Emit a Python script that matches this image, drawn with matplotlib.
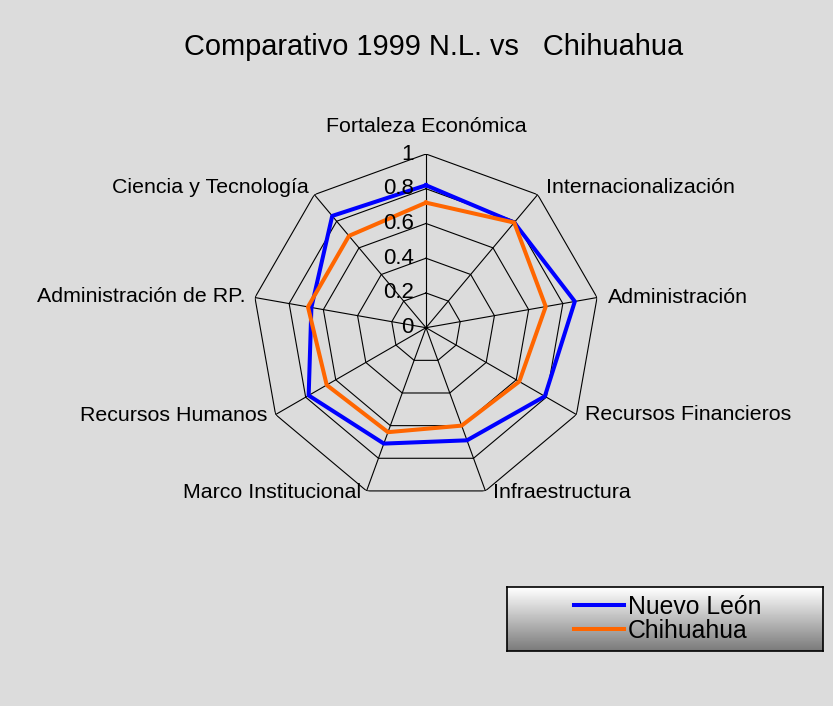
import numpy as np
import matplotlib
matplotlib.use("Agg")
import matplotlib.pyplot as plt
from matplotlib.lines import Line2D

plt.rcParams['font.family'] = ['Liberation Sans', 'DejaVu Sans']

# data
categories = ["Fortaleza Económica", "Internacionalización", "Administración",
              "Recursos Financieros", "Infraestructura", "Marco Institucional",
              "Recursos Humanos", "Administración de RP.", "Ciencia y Tecnología"]
nuevo_leon = [0.82, 0.79, 0.87, 0.79, 0.69, 0.71, 0.78, 0.67, 0.84]
chihuahua = [0.72, 0.79, 0.70, 0.62, 0.60, 0.64, 0.66, 0.69, 0.69]
r_ticks = [0, 0.2, 0.4, 0.6, 0.8, 1]
r_labels = ["0", "0.2", "0.4", "0.6", "0.8", "1"]
title = "Comparativo 1999 N.L. vs   Chihuahua"

W, H = 833, 706
fig = plt.figure(figsize=(W / 100, H / 100), dpi=100)
fig.patch.set_facecolor('#dcdcdc')

# legend background with the grey gradient
lx, ly, lw, lh = 507, 587, 316, 64
gax = fig.add_axes([lx / W, 1 - (ly + lh) / H, lw / W, lh / H])
grad = np.linspace(1.0, 0.48, 64)[:, None] * np.ones((1, 10))
gax.imshow(grad, cmap='gray', vmin=0, vmax=1, aspect='auto', extent=[0, 1, 0, 1])
gax.set_xticks([])
gax.set_yticks([])
for s in gax.spines.values():
    s.set_color('black')
    s.set_linewidth(1.2)

# radar axes
cx, cy, R = 426, 327.7, 173.7
ax = fig.add_axes([(cx - R) / W, (H - cy - R) / H, 2 * R / W, 2 * R / H], polar=True)
ax.set_facecolor('none')
ax.set_theta_zero_location('N')
ax.set_theta_direction(-1)
ax.set_ylim(0, 1)
ax.grid(False)
ax.spines['polar'].set_visible(False)
ax.set_xticks([])
ax.set_yticks([])

n = len(categories)
theta = np.arange(n) * 2 * np.pi / n
closed = np.append(theta, theta[0])

# polygon grid
for lev in r_ticks[1:]:
    ax.plot(closed, [lev] * (n + 1), color='black', lw=0.8, zorder=1)
for t in theta:
    ax.plot([t, t], [0, 1], color='black', lw=0.8, zorder=1)

ax.plot(closed, nuevo_leon + nuevo_leon[:1], color='#0000ff', lw=2.9, zorder=3,
        label='Nuevo León')
ax.plot(closed, chihuahua + chihuahua[:1], color='#ff6600', lw=2.9, zorder=3,
        label='Chihuahua')

for r, lab in zip(r_ticks, r_labels):
    ax.annotate(lab, xy=(0, r), xytext=(-12, 0), textcoords='offset pixels',
                ha='right', va='center', fontsize=16, zorder=4)

# category labels
offsets = [(0, 28), (8, 7), (11, 0), (9, 0), (8, -2),
           (-5, -2), (-8, -1), (-9, 1), (-6, 7)]
for t, lab, (dx, dy) in zip(theta, categories, offsets):
    s = np.sin(t)
    ha = 'center' if abs(s) < 0.1 else ('left' if s > 0 else 'right')
    ax.annotate(lab, xy=(t, 1), xytext=(dx, dy), textcoords='offset pixels',
                ha=ha, va='center', fontsize=15.4)

fig.text(434 / W, 1 - 47 / H, title, ha='center', va='center', fontsize=20.9)

handles = [Line2D([], [], color='#0000ff', lw=2.9),
           Line2D([], [], color='#ff6600', lw=2.9)]
fig.legend(handles, ['Nuevo León', 'Chihuahua'], loc='center left',
           bbox_to_anchor=(562 / W, 1 - (ly + lh / 2) / H),
           frameon=False, fontsize=17.8, handlelength=2.0, handletextpad=0.15,
           labelspacing=0.0, borderpad=0)

fig.savefig('out.png', dpi=100, facecolor=fig.get_facecolor())
